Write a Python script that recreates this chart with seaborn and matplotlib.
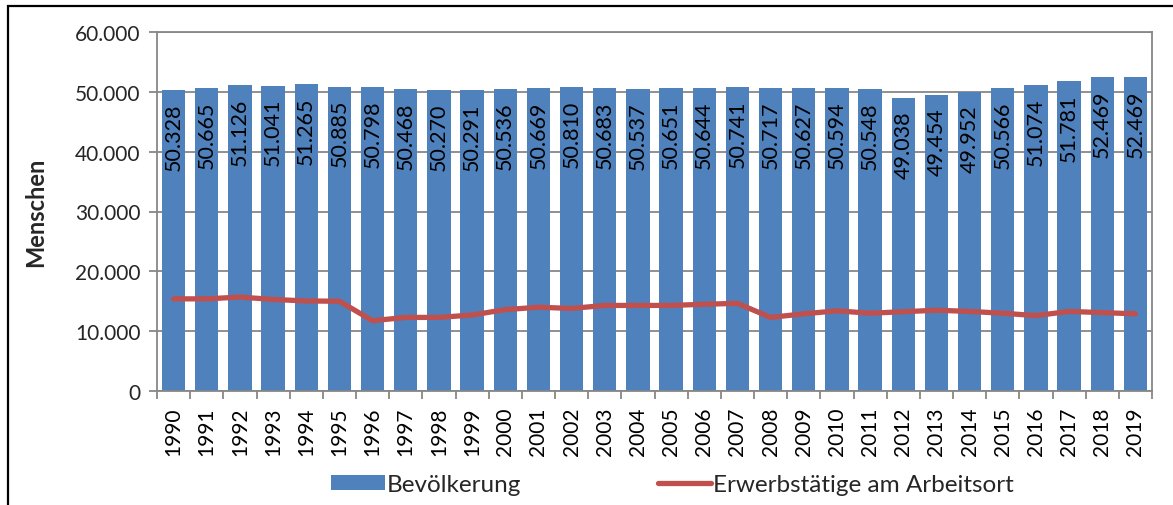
import numpy as np
import pandas as pd
import matplotlib
matplotlib.use("Agg")
import matplotlib.pyplot as plt
import seaborn as sns
from matplotlib.patches import Rectangle
from matplotlib.ticker import FuncFormatter, FixedLocator

years = [str(y) for y in range(1990, 2020)]
bevoelkerung = [50328, 50665, 51126, 51041, 51265, 50885, 50798, 50468, 50270, 50291,
                50536, 50669, 50810, 50683, 50537, 50651, 50644, 50741, 50717, 50627,
                50594, 50548, 49038, 49454, 49952, 50566, 51074, 51781, 52469, 52469]
erwerbstaetige = [15400, 15400, 15700, 15300, 15050, 15000, 11750, 12300, 12300, 12700,
                  13600, 14000, 13800, 14300, 14300, 14300, 14500, 14650, 12300, 12900,
                  13400, 13000, 13250, 13500, 13300, 13000, 12600, 13300, 13100, 12900]

df = pd.DataFrame({"Jahr": years, "Bevölkerung": bevoelkerung,
                   "Erwerbstätige": erwerbstaetige})

sns.set_style("white")
plt.rcParams["font.family"] = ["Lato", "DejaVu Sans"]

def de_fmt(v):
    return f"{int(v):,}".replace(",", ".")

fig = plt.figure(figsize=(11.73, 5.06), dpi=100)
ax = fig.add_axes([157 / 1173, 1 - 392 / 506, (1152 - 157) / 1173, (392 - 33) / 506])

grey = "#878787"
ax.set_axisbelow(True)
ax.yaxis.grid(True, color=grey, linewidth=1.3)

sns.barplot(data=df, x="Jahr", y="Bevölkerung", color="#4F81BD", saturation=1,
            width=0.7, linewidth=0, label="Bevölkerung", ax=ax)
sns.lineplot(data=df, x="Jahr", y="Erwerbstätige", color="#C0504D", linewidth=3.8,
             label="Erwerbstätige am Arbeitsort", ax=ax)

for i, v in enumerate(bevoelkerung):
    ax.annotate(de_fmt(v), xy=(i, v), xytext=(0, -9), textcoords="offset points",
                rotation=90, ha="center", va="top", fontsize=15.5, color="black")

ax.set_xlim(-0.5, len(years) - 0.5)
ax.set_ylim(0, 60000)
ax.yaxis.set_major_locator(FixedLocator(np.arange(0, 60001, 10000)))
ax.yaxis.set_major_formatter(FuncFormatter(lambda v, p: de_fmt(v)))
ax.set_xticks(range(len(years)))
ax.set_xticklabels(years, rotation=90)
ax.xaxis.set_minor_locator(FixedLocator(np.arange(-0.5, len(years), 1)))
ax.tick_params(axis="x", which="major", length=0, pad=11, labelsize=15, labelcolor="black")
ax.tick_params(axis="x", which="minor", length=6, width=1.3, color=grey, direction="out")
ax.tick_params(axis="y", length=6, width=1.3, color=grey, direction="out", pad=6,
               labelsize=15, labelcolor="#262626")
ax.tick_params(bottom=True, left=True, which="both")

for side in ["left", "right", "top", "bottom"]:
    ax.spines[side].set_visible(True)
    ax.spines[side].set_color(grey)
    ax.spines[side].set_linewidth(1.3)

ax.set_xlabel("")
ax.set_ylabel("Menschen", fontsize=17, fontweight="bold")
ax.yaxis.set_label_coords(-0.110, 0.5)

handles, labels = ax.get_legend_handles_labels()
order = [labels.index("Bevölkerung"), labels.index("Erwerbstätige am Arbeitsort")]
if ax.get_legend() is not None:
    ax.get_legend().remove()
fig.legend([handles[k] for k in order], [labels[k] for k in order],
           loc="center", bbox_to_anchor=(0.5735, 0.04), ncol=2,
           frameon=False, fontsize=17.5, handlelength=2.2, handletextpad=0.1,
           columnspacing=5.6, handleheight=0.55)

fig.patches.append(Rectangle((8 / 1173, -0.1), 2, 0.1 + 1 - 7 / 506, transform=fig.transFigure,
                             fill=False, edgecolor="black", linewidth=1.6, clip_on=False))

fig.savefig("out.png", dpi=100)
